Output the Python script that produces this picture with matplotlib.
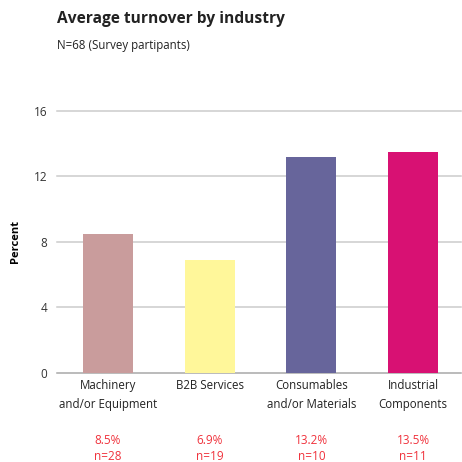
import matplotlib
matplotlib.use("Agg")
import matplotlib.pyplot as plt
from matplotlib.transforms import blended_transform_factory

plt.rcParams['font.family'] = ['Open Sans', 'DejaVu Sans']

categories = ["Machinery\nand/or Equipment", "B2B Services",
              "Consumables\nand/or Materials", "Industrial\nComponents"]
values = [8.5, 6.9, 13.2, 13.5]
counts = [28, 19, 10, 11]
colors = ["#c99c9c", "#fff79a", "#67659b", "#d81173"]
yticks = [0, 4, 8, 12, 16]

W = H = 462
fig = plt.figure(figsize=(W / 100, H / 100), dpi=100)
ax = fig.add_axes([57 / W, 1 - 372.5 / H, (461 - 57) / W, (372.5 - 111) / H])

x = list(range(len(categories)))
ax.bar(x, values, width=0.49, color=colors, zorder=3)
ax.set_xlim(-0.5, 3.47)
ax.set_ylim(0, 16)

for t in yticks:
    ax.axhline(t, color="#a8a8a8" if t == 0 else "#cccccc",
               lw=1.1, zorder=1, clip_on=False)

for s in ax.spines.values():
    s.set_visible(False)

ax.set_yticks(yticks)
ax.set_yticklabels([str(t) for t in yticks], fontsize=8.5, color="#333333")
ax.set_xticks(x)
ax.set_xticklabels(categories, fontsize=8.3, color="#222222", linespacing=1.55)
ax.tick_params(axis="y", length=0, pad=7)
ax.tick_params(axis="x", length=0, pad=5)
ax.set_ylabel("Percent", fontsize=8, fontweight="bold", labelpad=9)

tr = blended_transform_factory(ax.transData, fig.transFigure)
for xi, v, n in zip(x, values, counts):
    ax.text(xi, 1 - 441 / H, f"{v}%", transform=tr, ha="center", va="center",
            fontsize=8.5, color="#f0323c")
    ax.text(xi, 1 - 457 / H, f"n={n}", transform=tr, ha="center", va="center",
            fontsize=8.5, color="#f0323c")

fig.text(57 / W, 1 - 19 / H, "Average turnover by industry", fontsize=11.2,
         fontweight="bold", color="#222222", ha="left", va="center")
fig.text(57 / W, 1 - 46 / H, "N=68 (Survey partipants)", fontsize=8.3,
         color="#222222", ha="left", va="center")

fig.savefig("out.png", dpi=100)
